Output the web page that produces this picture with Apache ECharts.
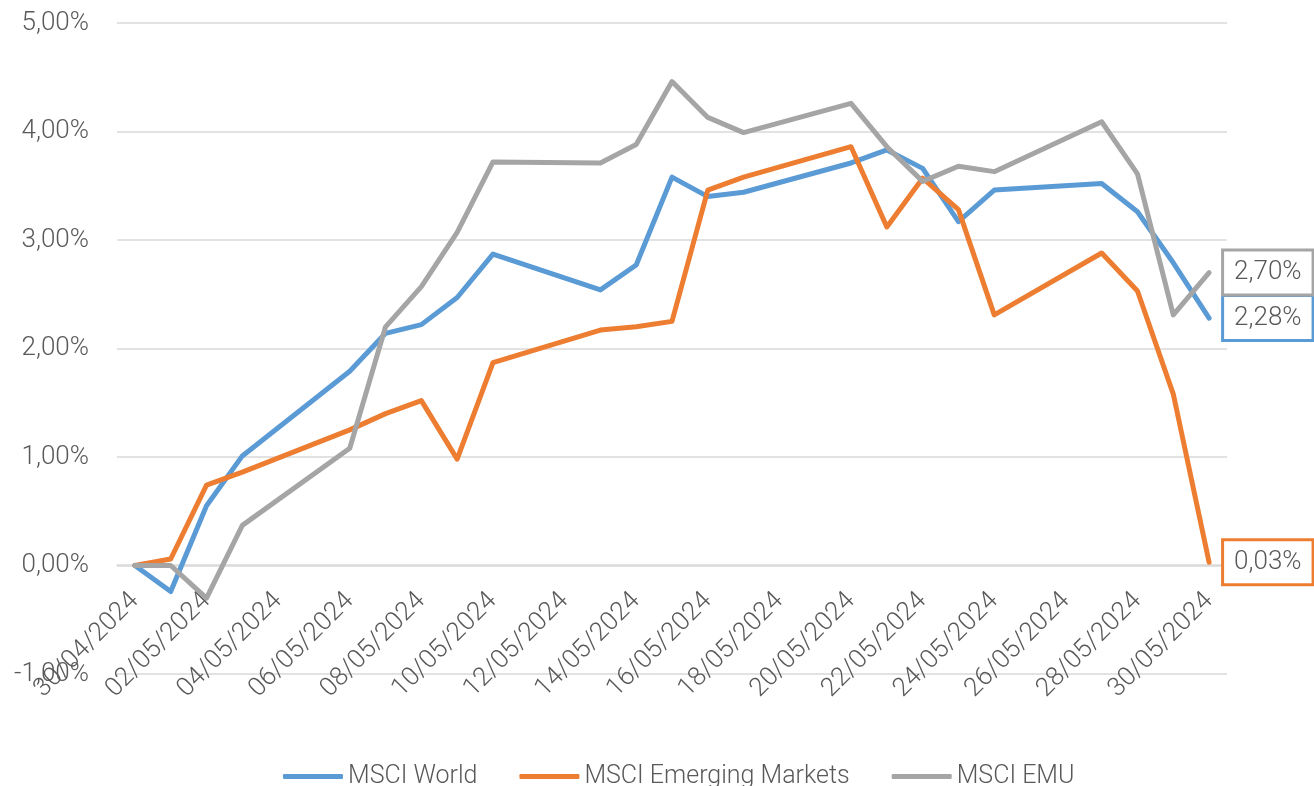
<!DOCTYPE html>
<html>
<head>
<meta charset="utf-8">
<script src="https://cdn.jsdelivr.net/npm/echarts@6/dist/echarts.min.js"></script>
<style>
  html, body { margin: 0; padding: 0; background: #fff; }
  #chart { width: 1314px; height: 786px; }
</style>
</head>
<body>
<div id="chart"></div>
<script>
// every calendar day on the axis (labels shown every 2nd day)
const days = [
  '30/04/2024', '01/05/2024', '02/05/2024', '03/05/2024', '04/05/2024', '05/05/2024',
  '06/05/2024', '07/05/2024', '08/05/2024', '09/05/2024', '10/05/2024', '11/05/2024',
  '12/05/2024', '13/05/2024', '14/05/2024', '15/05/2024', '16/05/2024', '17/05/2024',
  '18/05/2024', '19/05/2024', '20/05/2024', '21/05/2024', '22/05/2024', '23/05/2024',
  '24/05/2024', '25/05/2024', '26/05/2024', '27/05/2024', '28/05/2024', '29/05/2024',
  '30/05/2024'
];

// trading days that carry a value
const tradingDays = [
  '30/04/2024', '01/05/2024', '02/05/2024', '03/05/2024', '06/05/2024', '07/05/2024',
  '08/05/2024', '09/05/2024', '10/05/2024', '13/05/2024', '14/05/2024', '15/05/2024',
  '16/05/2024', '17/05/2024', '20/05/2024', '21/05/2024', '22/05/2024', '23/05/2024',
  '24/05/2024', '27/05/2024', '28/05/2024', '29/05/2024', '30/05/2024'
];

// cumulative performance, %
const msciWorld = [0, -0.24, 0.55, 1.01, 1.79, 2.14, 2.22, 2.47, 2.87, 2.54, 2.77, 3.58,
  3.40, 3.44, 3.71, 3.83, 3.66, 3.17, 3.46, 3.52, 3.26, 2.79, 2.28];
const msciEM = [0, 0.06, 0.74, 0.86, 1.25, 1.40, 1.52, 0.98, 1.87, 2.17, 2.20, 2.25,
  3.46, 3.58, 3.86, 3.12, 3.57, 3.28, 2.31, 2.88, 2.53, 1.58, 0.03];
const msciEMU = [0, 0.0, -0.30, 0.37, 1.08, 2.20, 2.57, 3.07, 3.72, 3.71, 3.88, 4.46,
  4.13, 3.99, 4.26, 3.86, 3.54, 3.68, 3.63, 4.09, 3.61, 2.31, 2.70];

const seriesNames = ['MSCI World', 'MSCI Emerging Markets', 'MSCI EMU'];
const seriesValues = [msciWorld, msciEM, msciEMU];
const colors = ['#5B9BD5', '#ED7D31', '#A5A5A5'];

const FONT = 'Roboto, "Liberation Sans", sans-serif';
const TEXT = '#595959';

const pct = v => v.toFixed(2).replace('.', ',') + '%';

const chart = echarts.init(document.getElementById('chart'));

chart.setOption({
  animation: false,
  backgroundColor: '#fff',
  textStyle: { fontFamily: FONT },
  grid: {
    left: 117,
    right: 87,
    top: 23,
    bottom: 112,
    containLabel: false,
    outerBoundsMode: 'none'
  },
  legend: {
    data: seriesNames,
    left: 278,
    top: 759,
    icon: 'roundRect',
    itemWidth: 60,
    itemHeight: 5,
    itemGap: 42,
    textStyle: { color: TEXT, fontSize: 25, fontFamily: FONT, fontWeight: 300 }
  },
  xAxis: {
    type: 'category',
    data: days,
    boundaryGap: true,
    // axis sits on the 0 % line, one grid step above the bottom
    offset: -109,
    axisLine: { onZero: false, lineStyle: { color: '#D9D9D9', width: 1.5 } },
    axisTick: { interval: 1, length: 7, lineStyle: { color: '#D9D9D9', width: 1.5 } },
    axisLabel: {
      interval: 1,
      rotate: 45,
      margin: 32,
      color: TEXT,
      fontSize: 26,
      fontFamily: FONT,
      fontWeight: 300
    },
    splitLine: { show: false }
  },
  yAxis: {
    type: 'value',
    min: -1,
    max: 5,
    interval: 1,
    axisLine: { show: false },
    axisTick: { show: false },
    axisLabel: {
      formatter: pct,
      margin: 28,
      color: TEXT,
      fontSize: 26,
      fontFamily: FONT,
      fontWeight: 300
    },
    splitLine: { lineStyle: { color: '#D9D9D9', width: 1.5 } }
  },
  series: seriesNames.map((name, i) => ({
    name: name,
    type: 'line',
    symbol: 'none',
    color: colors[i],
    lineStyle: { width: 5, color: colors[i], cap: 'round', join: 'round' },
    data: tradingDays.map((d, k) => [d, seriesValues[i][k]]),
    endLabel: {
      show: true,
      distance: 15,
      formatter: p => pct(p.value[1]),
      color: TEXT,
      fontSize: 26,
      fontFamily: FONT,
      fontWeight: 300,
      backgroundColor: '#fff',
      borderColor: colors[i],
      borderWidth: 3,
      padding: [8, 10, 8, 10]
    }
  }))
});

window.addEventListener('resize', () => chart.resize());
</script>
</body>
</html>
